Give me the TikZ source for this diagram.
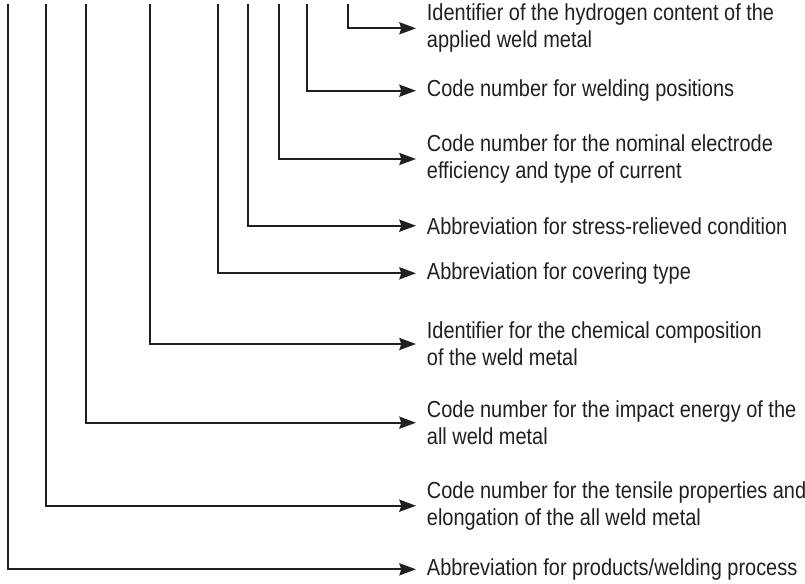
\documentclass[tikz,border=0pt]{standalone}
\usepackage{fontspec}
\usepackage{tikz}
\usetikzlibrary{arrows.meta,positioning}
\newfontfamily\keyfont{Liberation Sans}[FakeStretch=0.86]
\definecolor{ink}{HTML}{231F20}
\tikzset{
  lead/.style={draw=ink,line width=1.7pt,-{Stealth[length=12.5pt,width=9pt,inset=1.5pt]}},
  keytext/.style={anchor=west,align=left,inner xsep=8pt,inner ysep=0pt,text=ink,
    font=\keyfont\fontsize{17.4pt}{20.5pt}\selectfont}
}
\begin{document}
\begin{tikzpicture}[x=0.75pt,y=-0.75pt]
				\useasboundingbox (0,0) rectangle (805,583);
				
				% tops of the lines
				\coordinate (pProc) at (8,4);
				\coordinate (pTens) at (46,4);
				\coordinate (pImp) at (86,4);
				\coordinate (pChem) at (150,4);
				\coordinate (pCov) at (218,4);
				\coordinate (pStress) at (248,4);
				\coordinate (pEff) at (279,4);
				\coordinate (pPos) at (307,4);
				\coordinate (pHyd) at (348,4);
				
				% texts
				\node[keytext] (hyd) at (416,28.3) {Identifier of the hydrogen content of the\\applied weld metal};
				\node[keytext] (pos) at (416,90.7) {Code number for welding positions};
				\node[keytext] (eff) at (416,159) {Code number for the nominal electrode\\efficiency and type of current};
				\node[keytext] (stress) at (416,225.7) {Abbreviation for stress-relieved condition};
				\node[keytext] (cov) at (416,273.3) {Abbreviation for covering type};
				\node[keytext] (chem) at (416,344) {Identifier for the chemical composition\\of the weld metal};
				\node[keytext] (imp) at (416,422.7) {Code number for the impact energy of the\\all weld metal};
				\node[keytext] (tens) at (416,505.7) {Code number for the tensile properties and\\elongation of the all weld metal};
				\node[keytext] (proc) at (416,569.3) {Abbreviation for products/welding process};
				
				\draw[lead] (pHyd) |- (hyd.west);
				\draw[lead] (pPos) |- (pos.west);
				\draw[lead] (pEff) |- (eff.west);
				\draw[lead] (pStress) |- (stress.west);
				\draw[lead] (pCov) |- (cov.west);
				\draw[lead] (pChem) |- (chem.west);
				\draw[lead] (pImp) |- (imp.west);
				\draw[lead] (pTens) |- (tens.west);
				\draw[lead] (pProc) |- (proc.west);
			\end{tikzpicture}
\end{document}
